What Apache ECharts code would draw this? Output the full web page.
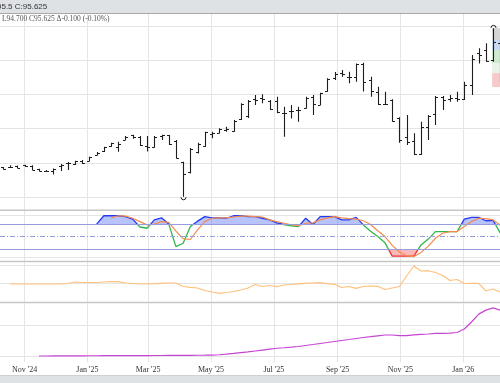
<!DOCTYPE html>
<html><head><meta charset="utf-8">
<script src="https://cdn.jsdelivr.net/npm/echarts@6/dist/echarts.min.js"></script>
<style>html,body{margin:0;padding:0;background:#fff}#c{width:500px;height:383px}</style>
</head><body><div id="c"></div>
<script>
// ---------------- DATA ----------------
const weeks = ['2024-10-11','2024-10-18','2024-10-25','2024-11-01','2024-11-08','2024-11-15','2024-11-22','2024-11-29','2024-12-06','2024-12-13',
'2024-12-20','2024-12-27','2025-01-03','2025-01-10','2025-01-17','2025-01-24','2025-01-31','2025-02-07','2025-02-14','2025-02-21',
'2025-02-28','2025-03-07','2025-03-14','2025-03-21','2025-03-28','2025-04-04','2025-04-11','2025-04-18','2025-04-25','2025-05-02',
'2025-05-09','2025-05-16','2025-05-23','2025-05-30','2025-06-06','2025-06-13','2025-06-20','2025-06-27','2025-07-04','2025-07-11',
'2025-07-18','2025-07-25','2025-08-01','2025-08-08','2025-08-15','2025-08-22','2025-08-29','2025-09-05','2025-09-12','2025-09-19',
'2025-09-26','2025-10-03','2025-10-10','2025-10-17','2025-10-24','2025-10-31','2025-11-07','2025-11-14','2025-11-21','2025-11-28',
'2025-12-05','2025-12-12','2025-12-19','2025-12-26','2026-01-02','2026-01-09','2026-01-16','2026-01-23','2026-01-30','2026-02-06'];

const opens = [94.966,94.971,94.977,94.984,94.980,94.955,94.940,94.940,94.980,94.998,
94.991,95.013,95.013,95.057,95.083,95.123,95.115,95.167,95.203,95.189,
95.123,95.118,95.196,95.200,95.163,95.006,94.933,95.079,95.123,95.214,
95.218,95.243,95.232,95.320,95.342,95.466,95.474,95.455,95.452,95.368,
95.379,95.386,95.401,95.481,95.426,95.525,95.620,95.656,95.631,95.627,
95.726,95.605,95.521,95.430,95.459,95.327,95.192,95.159,95.068,95.262,
95.357,95.479,95.470,95.474,95.466,95.569,95.803,95.825,95.751,95.879];
const highs = [94.969,94.982,94.980,94.986,94.982,94.957,94.947,94.958,94.991,95.006,
95.015,95.020,95.045,95.079,95.118,95.147,95.154,95.196,95.205,95.196,
95.196,95.196,95.205,95.203,95.167,95.008,95.108,95.147,95.227,95.227,
95.252,95.264,95.313,95.435,95.459,95.496,95.501,95.459,95.483,95.410,
95.422,95.410,95.483,95.496,95.512,95.618,95.664,95.678,95.666,95.727,
95.732,95.629,95.556,95.520,95.464,95.333,95.349,95.216,95.300,95.349,
95.488,95.488,95.496,95.520,95.593,95.788,95.837,95.874,95.983,95.898];
const lows = [94.951,94.962,94.962,94.971,94.947,94.938,94.936,94.914,94.940,94.947,
94.984,94.991,95.011,95.055,95.079,95.118,95.081,95.167,95.176,95.123,
95.083,95.112,95.167,95.130,95.031,94.752,94.922,95.069,95.118,95.179,
95.216,95.227,95.227,95.313,95.327,95.422,95.435,95.386,95.362,95.191,
95.325,95.300,95.398,95.349,95.422,95.520,95.605,95.629,95.581,95.593,
95.521,95.483,95.422,95.422,95.300,95.147,95.130,95.057,95.057,95.167,
95.276,95.386,95.447,95.447,95.459,95.496,95.727,95.739,95.739,95.591];
const closes = [94.955,94.971,94.962,94.977,94.947,94.940,94.940,94.955,94.986,94.998,
95.013,94.998,95.042,95.075,95.115,95.145,95.137,95.192,95.189,95.130,
95.115,95.189,95.200,95.137,95.035,94.922,95.101,95.137,95.225,95.218,
95.247,95.247,95.309,95.430,95.455,95.463,95.466,95.390,95.371,95.364,
95.382,95.386,95.477,95.430,95.510,95.613,95.649,95.649,95.631,95.726,
95.594,95.528,95.430,95.433,95.305,95.167,95.156,95.064,95.262,95.342,
95.483,95.459,95.474,95.466,95.569,95.757,95.788,95.744,95.883,95.625];

const stochK = [null,null,null,null,null,null,null,null,null,null,
null,null,null,80,100,100,100,98,92,73,
70,90,95,80,26,34,74,87,98,95,
95,94,100,100,98,98,94,90,83,79,
76,74,94,79,98,98,98,90,90,96,
78,63,50,35,3,3,3,3,30,44,
62,62,62,62,92,96,96,88,89,58];
const stochD = [null,null,null,null,null,null,null,null,null,null,
null,null,null,null,null,95,100,99,94,86,
78,80,86,84,63,45,43,66,86,94,
95,95,97,99,99,98,97,90,86,82,
78,76,82,83,90,95,98,95,93,92,
88,79,64,50,29,13,4,2,12,27,
46,58,62,62,74,86,94,93,90,77];
const stochLevels = [80, 50, 20];

const orangeLine = [null,49.44,49.44,49.44,49.44,49.44,49.44,49.44,49.44,49.72,
50.56,50.28,50.28,50.28,50.56,50.72,50.72,50.0,49.72,49.44,
49.44,49.61,49.83,50.0,50.0,48.06,47.61,47.22,45.83,45.0,
44.28,44.72,45.28,46.11,47.22,49.17,48.06,48.61,47.94,48.89,
49.17,49.56,49.83,50.0,50.17,49.61,49.28,47.5,48.06,47.06,
48.06,48.33,48.17,46.39,47.22,48.06,53.89,59.44,56.67,56.83,
55.83,54.17,51.39,51.94,49.72,49.83,49.83,45.56,46.67,45.0];

const purpleLine = [null,null,null,null,null,0.0,0.0,0.02,0.03,0.04,
0.05,0.06,0.07,0.08,0.09,0.1,0.1,0.11,0.12,0.13,
0.14,0.15,0.16,0.17,0.18,0.2,0.22,0.24,0.26,0.3,
0.4,0.6,0.82,1.06,1.3,1.6,1.9,2.2,2.5,2.65,
2.84,3.06,3.39,3.7,4.03,4.35,4.68,5.0,5.32,5.65,
5.97,6.23,6.5,6.77,6.77,6.55,6.6,6.84,7.0,7.1,
7.3,7.3,7.4,7.58,8.7,10.97,13.5,14.8,15.5,14.8];

const monthTicks = ['2024-11-01','2025-01-01','2025-03-01','2025-05-01','2025-07-01','2025-09-01','2025-11-01','2026-01-01'];
const monthNames = ['Jan','Feb','Mar','Apr','May','Jun','Jul','Aug','Sep','Oct','Nov','Dec'];
const priceTicks = [94.75, 95.0, 95.25, 95.5, 95.75, 96.0];
const stochTicks = [0, 100];
const orangeTicks = [50, 60];
const purpleTicks = [0, 10];
const priceTags = [
  {from: 95.985, to: 95.898, color: 'rgba(200,200,200,0.75)'},
  {from: 95.898, to: 95.825, color: 'rgba(190,210,242,0.85)'},
  {from: 95.825, to: 95.730, color: 'rgba(200,232,200,0.85)'},
  {from: 95.730, to: 95.656, color: 'rgba(228,242,228,0.85)'},
  {from: 95.656, to: 95.554, color: 'rgba(246,196,196,0.9)'}
];
const tagStart = '2026-01-29';
const headerText = '95.5 C:95.625';
const statsText = 'L94.700 C95.625 \u0394-0.100 (-0.10%)';

// ---------------- CHART ----------------
function parseDay(s){ const p = s.split('-').map(Number); return new Date(p[0], p[1]-1, p[2]).getTime(); }
const xMin = new Date(2024, 9, 8, 4).getTime();
const xMax = new Date(2026, 1, 5, 16).getTime();
const tickTimes = monthTicks.map(parseDay);
const weekTimes = weeks.map(parseDay);

const ohlc = weekTimes.map((t, i) => [t, opens[i], highs[i], lows[i], closes[i]]);
const pair = arr => weekTimes.map((t, i) => [t, arr[i]]);
const lowestLow = Math.min.apply(null, lows);
const highestHigh = Math.max.apply(null, highs);

const chart = echarts.init(document.getElementById('c'), null, {renderer: 'canvas'});
const gridColor = '#e4e4e4';

const grids = [
  {left: 0, right: 0, top: 14, height: 195.5},      // price
  {left: 0, right: 0, top: 211, height: 49.7},      // stochastic
  {left: 0, right: 0, top: 215.73, height: 8.34},   // stochastic 80-100 band (fill clip)
  {left: 0, right: 0, top: 249.07, height: 8.33},   // stochastic 0-20 band (fill clip)
  {left: 0, right: 0, top: 262.2, height: 39.5},    // orange
  {left: 0, right: 0, top: 303.3, height: 58.7}     // purple
];

function makeX(i, showSplit, showLabel){
  return {
    type: 'value', gridIndex: i, min: xMin, max: xMax,
    axisLine: {show: false},
    axisTick: {show: false, customValues: tickTimes},
    splitLine: {show: showSplit, lineStyle: {color: gridColor, width: 1}},
    axisLabel: {
      show: showLabel, customValues: tickTimes, margin: 4, hideOverlap: false,
      fontFamily: 'Liberation Serif', fontSize: 8, color: '#333',
      formatter: v => { const d = new Date(v); return monthNames[d.getMonth()] + " '" + String(d.getFullYear()).slice(2); }
    }
  };
}
function makeY(i, min, max, ticks){
  return {
    type: 'value', gridIndex: i, min: min, max: max, position: 'right',
    axisLine: {show: false}, axisLabel: {show: false},
    axisTick: {show: false, customValues: ticks || []},
    splitLine: {show: !!ticks, lineStyle: {color: gridColor, width: 1}}
  };
}

function renderOHLC(params, api){
  const t = api.value(0);
  const o = api.coord([t, api.value(1)]);
  const h = api.coord([t, api.value(2)]);
  const l = api.coord([t, api.value(3)]);
  const c = api.coord([t, api.value(4)]);
  const x = Math.round(o[0]) + 0.5;
  const tk = 2.5;
  const st = {stroke: '#1e1e1e', lineWidth: 1.1, fill: null};
  const yo = Math.round(o[1]) + 0.5, yc = Math.round(c[1]) + 0.5;
  const kids = [
    {type: 'line', shape: {x1: x, y1: h[1], x2: x, y2: l[1]}, style: st},
    {type: 'line', shape: {x1: x - tk, y1: yo, x2: x, y2: yo}, style: st},
    {type: 'line', shape: {x1: x, y1: yc, x2: x + tk, y2: yc}, style: st}
  ];
  if (api.value(3) === lowestLow) {
    kids.push({type: 'arc', shape: {cx: x, cy: l[1] + 0.5, r: 2.5, startAngle: 0, endAngle: Math.PI, clockwise: true}, style: {stroke: '#1e1e1e', lineWidth: 1, fill: null}});
  }
  if (api.value(2) === highestHigh) {
    kids.push({type: 'arc', shape: {cx: x, cy: h[1] - 0.5, r: 2.5, startAngle: Math.PI, endAngle: Math.PI * 2, clockwise: true}, style: {stroke: '#1e1e1e', lineWidth: 1, fill: null}});
  }
  return {type: 'group', children: kids};
}

const option = {
  animation: false,
  backgroundColor: '#fff',
  grid: grids,
  xAxis: [makeX(0, true, false), makeX(1, true, false), makeX(2, false, false), makeX(3, false, false), makeX(4, true, false), makeX(5, true, true)],
  yAxis: [
    makeY(0, 94.659, 96.088, priceTicks),
    makeY(1, -7.9, 111.4, stochTicks),
    makeY(2, 80, 100, null),
    makeY(3, 0, 20, null),
    makeY(4, 39.61, 61.56, orangeTicks),
    makeY(5, -1.94, 17.0, purpleTicks)
  ],
  visualMap: {
    show: false, type: 'piecewise', seriesIndex: 4, dimension: 1,
    pieces: [{lt: 20, color: '#f03232'}, {gte: 20, lte: 80, color: '#2db84b'}, {gt: 80, color: '#2339f2'}]
  },
  series: [
    {
      type: 'custom', xAxisIndex: 0, yAxisIndex: 0, data: ohlc, renderItem: renderOHLC,
      encode: {x: 0, y: [1, 2, 3, 4]}, clip: true,
      markArea: {
        silent: true,
        data: priceTags.map(p => [{xAxis: parseDay(tagStart), yAxis: p.from, itemStyle: {color: p.color}}, {xAxis: xMax, yAxis: p.to}])
      }
    },
    {
      type: 'line', xAxisIndex: 1, yAxisIndex: 1, data: [], silent: true,
      markLine: {
        silent: true, symbol: 'none', label: {show: false},
        data: stochLevels.map(v => ({yAxis: v, lineStyle: {color: '#959dda', width: 1.2, type: v === 50 ? [5, 2, 1, 2] : 'solid'}}))
      }
    },
    {
      type: 'line', xAxisIndex: 2, yAxisIndex: 2, data: pair(stochK), showSymbol: false, clip: true,
      lineStyle: {width: 0, opacity: 0}, areaStyle: {origin: 'start', color: 'rgba(70,95,245,0.55)'}, silent: true
    },
    {
      type: 'line', xAxisIndex: 3, yAxisIndex: 3, data: pair(stochK), showSymbol: false, clip: true,
      lineStyle: {width: 0, opacity: 0}, areaStyle: {origin: 'end', color: 'rgba(245,70,70,0.55)'}, silent: true
    },
    {
      type: 'line', xAxisIndex: 1, yAxisIndex: 1, data: pair(stochK), showSymbol: false, clip: false,
      lineStyle: {width: 1.3}, silent: true
    },
    {
      type: 'line', xAxisIndex: 1, yAxisIndex: 1, data: pair(stochD), showSymbol: false, clip: false,
      lineStyle: {width: 1.2, color: '#f58c4c'}, itemStyle: {color: '#f58c4c'}, silent: true
    },
    {
      type: 'line', xAxisIndex: 4, yAxisIndex: 4, data: pair(orangeLine), showSymbol: false,
      lineStyle: {width: 1.2, color: '#ffc07c'}, itemStyle: {color: '#ffc07c'}, silent: true
    },
    {
      type: 'line', xAxisIndex: 5, yAxisIndex: 5, data: pair(purpleLine), showSymbol: false,
      lineStyle: {width: 1.2, color: '#c744d6'}, itemStyle: {color: '#c744d6'}, silent: true
    }
  ],
  graphic: [
    {type: 'rect', shape: {x: 0, y: 0, width: 500, height: 13}, style: {fill: '#dfe2e5'}, z: 100},
    {type: 'rect', shape: {x: 0, y: 13, width: 500, height: 1}, style: {fill: '#a8a8a8'}, z: 100},
    {type: 'text', x: -3, y: 7, style: {text: headerText, font: '8px "Liberation Sans"', fill: '#333', verticalAlign: 'middle'}, z: 101},
    {type: 'text', x: 2, y: 19.5, style: {text: statsText, font: '7.5px "Liberation Serif"', fill: '#555', verticalAlign: 'middle'}, z: 101},
    {type: 'rect', shape: {x: 0, y: 209.5, width: 500, height: 1.6}, style: {fill: '#c6c6c6'}, z: 100},
    {type: 'rect', shape: {x: 0, y: 260.7, width: 500, height: 1.6}, style: {fill: '#c6c6c6'}, z: 100},
    {type: 'rect', shape: {x: 0, y: 301.7, width: 500, height: 1.6}, style: {fill: '#c6c6c6'}, z: 100},
    {type: 'rect', shape: {x: 0, y: 375.7, width: 500, height: 8}, style: {fill: '#dfe2e5'}, z: 100},
    {type: 'rect', shape: {x: 0, y: 375.2, width: 500, height: 0.8}, style: {fill: '#c4c4c4'}, z: 100}
  ]
};
chart.setOption(option);
</script>
</body></html>
